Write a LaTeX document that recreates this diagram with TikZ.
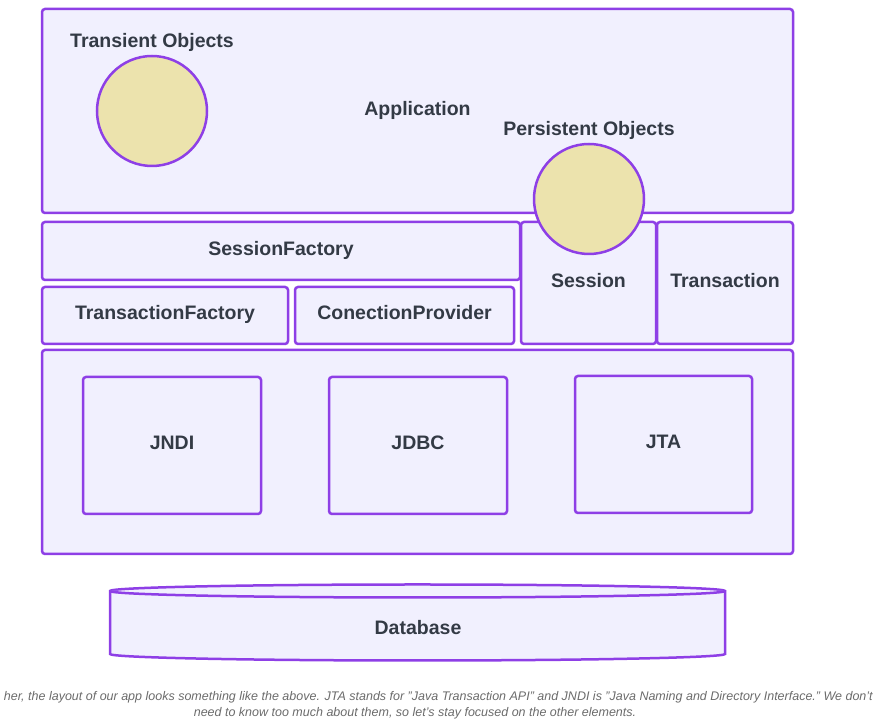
\documentclass[tikz,border=0pt]{standalone}
\usepackage{fontspec}
\setmainfont{Liberation Sans}
\usetikzlibrary{positioning}

\definecolor{boxfill}{HTML}{F1F0FE}
\definecolor{boxline}{HTML}{8E3FE6}
\definecolor{objfill}{HTML}{ECE3AD}
\definecolor{labeltext}{HTML}{333A45}
\definecolor{notetext}{HTML}{6B6B6B}

\begin{document}
\begin{tikzpicture} [x=1pt, y=1pt,
            box/.style = {draw=boxline, fill=boxfill, line width=2.5pt,
                rounded corners=3pt, inner sep=0pt, text=labeltext,
                text height=14pt, text depth=5pt,
                font=\fontsize{19.5}{23}\selectfont\bfseries},
            obj/.style = {circle, draw=boxline, fill=objfill, line width=2.5pt,
                minimum size=110pt, inner sep=0pt},
            lbl/.style = {inner sep=0pt, text=labeltext,
                text height=14pt, text depth=5pt,
                font=\fontsize{19.5}{23}\selectfont\bfseries},
            cyl/.style = {draw=boxline, fill=boxfill, line width=2.5pt},
            note/.style = {inner sep=0pt, text=notetext,
                font=\fontsize{12.5}{15}\selectfont\itshape}]

        \useasboundingbox (0,0) rectangle (895,725);

        % Application layer
        \node (app) [box, minimum width=751pt, minimum height=204pt]
            at (417.5,614) {Application};

        % SessionFactory
        \node (sf) [box, minimum width=478pt, minimum height=58pt]
            at (281,474) {SessionFactory};

        % TransactionFactory
        \node (tf) [box, minimum width=246pt, minimum height=57pt]
            at (165,409.5) {TransactionFactory};

        % ConectionProvider
        \node (cp) [box, minimum width=219pt, minimum height=57pt]
            at (404.5,409.5) {ConectionProvider};

        % Session
        \node (sess) [box, minimum width=135pt, minimum height=122pt]
            at (588.5,442) {Session};

        % Transaction
        \node (trans) [box, minimum width=136pt, minimum height=122pt]
            at (725,442) {Transaction};

        % Java APIs layer
        \node (api) [box, minimum width=751pt, minimum height=204pt]
            at (417.5,273) {};

        % JNDI
        \node (jndi) [box, minimum width=178pt, minimum height=137pt]
            at (172,279.5) {JNDI};

        % JDBC
        \node (jdbc) [box, minimum width=178pt, minimum height=137pt]
            at (418,279.5) {JDBC};

        % JTA
        \node (jta) [box, minimum width=177pt, minimum height=137pt]
            at (663.5,280.5) {JTA};

        % Transient objects
        \node (tobj) [obj] at (152,614) {};
        \node (tlbl) [lbl] at (152,681.5) {Transient Objects};

        % Persistent objects
        \node (pobj) [obj] at (589,526) {};
        \node (plbl) [lbl] at (589,593.5) {Persistent Objects};

        % Database
        \filldraw [cyl] (110,134) -- (110,71)
            arc [start angle=180, end angle=360, x radius=307.5, y radius=6.5]
            -- (725,134)
            arc [start angle=0, end angle=180, x radius=307.5, y radius=6.5]
            -- cycle;
        \draw [cyl] (110,134)
            arc [start angle=180, end angle=360, x radius=307.5, y radius=6.5];
        \node (db) [lbl] at (418,94.5) {Database};

        % Caption
        \node (note1) [note, anchor=east] at (873,28)
            {her, the layout of our app looks something like the above. JTA stands for "Java Transaction API" and JNDI is "Java Naming and Directory Interface." We don't};
        \node (note2) [note] at (415,12)
            {need to know too much about them, so let's stay focused on the other elements.};

        \end{tikzpicture}
\end{document}
